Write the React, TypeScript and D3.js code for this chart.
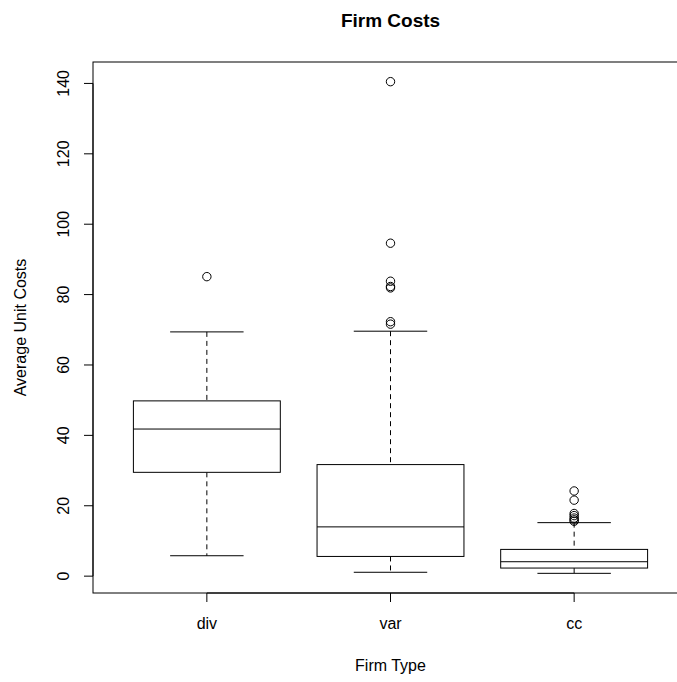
import { useEffect, useRef } from 'react';
import * as d3 from 'd3';

const CATEGORIES = ['div', 'var', 'cc'];
const LOWER_WHISKER = [5.8, 1.1, 0.8];
const Q1 = [29.5, 5.6, 2.3];
const MEDIAN = [41.8, 14.0, 4.1];
const Q3 = [49.8, 31.7, 7.6];
const UPPER_WHISKER = [69.4, 69.6, 15.2];
const OUTLIERS_DIV = [85.1];
const OUTLIERS_VAR = [140.5, 94.6, 83.8, 82.3, 81.9, 72.3, 71.6];
const OUTLIERS_CC = [24.2, 21.6, 17.8, 17.2, 16.5, 16.0, 15.6];
const OUTLIERS = [OUTLIERS_DIV, OUTLIERS_VAR, OUTLIERS_CC];
const Y_TICKS = [0, 20, 40, 60, 80, 100, 120, 140];

const WIDTH = 677;
const HEIGHT = 682;
// plot region, R style (right edge falls just outside the picture)
const PLOT = { left: 93, right: 688, top: 62, bottom: 593 };
const FONT = '"Liberation Sans", Arial, Helvetica, sans-serif';

export default function App() {
  const svgRef = useRef<SVGSVGElement>(null);

  useEffect(() => {
    const svg = d3.select(svgRef.current);
    svg.selectAll('*').remove();
    svg.style('font-family', FONT);

    // R pads the range by 4% on each side
    const all = [...LOWER_WHISKER, ...UPPER_WHISKER, ...OUTLIERS.flat()];
    const [lo, hi] = d3.extent(all) as [number, number];
    const pad = (hi - lo) * 0.04;

    const x = d3.scaleLinear().domain([0.38, 3.62]).range([PLOT.left, PLOT.right]);
    const y = d3.scaleLinear().domain([lo - pad, hi + pad]).range([PLOT.bottom, PLOT.top]);
    const boxHalf = x(1.4) - x(1); // box width 0.8
    const capHalf = boxHalf / 2;

    const g = svg.append('g').attr('fill', 'none').attr('stroke', '#000').attr('stroke-width', 1);

    CATEGORIES.forEach((_, i) => {
      const cx = x(i + 1);
      // whiskers
      g.append('line')
        .attr('x1', cx).attr('x2', cx)
        .attr('y1', y(UPPER_WHISKER[i])).attr('y2', y(Q3[i]))
        .attr('stroke-dasharray', '5,4');
      g.append('line')
        .attr('x1', cx).attr('x2', cx)
        .attr('y1', y(Q1[i])).attr('y2', y(LOWER_WHISKER[i]))
        .attr('stroke-dasharray', '5,4');
      // caps
      [UPPER_WHISKER[i], LOWER_WHISKER[i]].forEach((v) => {
        g.append('line')
          .attr('x1', cx - capHalf).attr('x2', cx + capHalf)
          .attr('y1', y(v)).attr('y2', y(v));
      });
      // box
      g.append('rect')
        .attr('x', cx - boxHalf)
        .attr('y', y(Q3[i]))
        .attr('width', boxHalf * 2)
        .attr('height', y(Q1[i]) - y(Q3[i]))
        .attr('fill', '#fff');
      g.append('line')
        .attr('x1', cx - boxHalf).attr('x2', cx + boxHalf)
        .attr('y1', y(MEDIAN[i])).attr('y2', y(MEDIAN[i]));
      // outliers
      g.selectAll(null)
        .data(OUTLIERS[i])
        .join('circle')
        .attr('cx', cx)
        .attr('cy', (d) => y(d))
        .attr('r', 4.2);
    });

    // frame
    g.append('rect')
      .attr('x', PLOT.left)
      .attr('y', PLOT.top)
      .attr('width', PLOT.right - PLOT.left)
      .attr('height', PLOT.bottom - PLOT.top);

    // y axis -------------------------------------------------------------
    const yAxis = svg.append('g');
    yAxis.append('line')
      .attr('x1', PLOT.left).attr('x2', PLOT.left)
      .attr('y1', y(Y_TICKS[0])).attr('y2', y(Y_TICKS[Y_TICKS.length - 1]))
      .attr('stroke', '#000');
    Y_TICKS.forEach((t) => {
      yAxis.append('line')
        .attr('x1', PLOT.left - 9).attr('x2', PLOT.left)
        .attr('y1', y(t)).attr('y2', y(t))
        .attr('stroke', '#000');
      yAxis.append('text')
        .attr('transform', `translate(63,${y(t)}) rotate(-90)`)
        .attr('text-anchor', 'middle')
        .attr('dy', '0.35em')
        .style('font-size', '16px')
        .text(t);
    });

    // x axis -------------------------------------------------------------
    const xAxis = svg.append('g');
    xAxis.append('line')
      .attr('x1', x(1)).attr('x2', x(CATEGORIES.length))
      .attr('y1', PLOT.bottom).attr('y2', PLOT.bottom)
      .attr('stroke', '#000');
    CATEGORIES.forEach((c, i) => {
      xAxis.append('line')
        .attr('x1', x(i + 1)).attr('x2', x(i + 1))
        .attr('y1', PLOT.bottom).attr('y2', PLOT.bottom + 9)
        .attr('stroke', '#000');
      xAxis.append('text')
        .attr('x', x(i + 1))
        .attr('y', 623)
        .attr('text-anchor', 'middle')
        .attr('dy', '0.35em')
        .style('font-size', '16px')
        .text(c);
    });

    // titles -------------------------------------------------------------
    const midX = (PLOT.left + PLOT.right) / 2;
    svg.append('text')
      .attr('x', midX)
      .attr('y', 20)
      .attr('text-anchor', 'middle')
      .attr('dy', '0.35em')
      .style('font-size', '19px')
      .style('font-weight', 'bold')
      .text('Firm Costs');
    svg.append('text')
      .attr('x', midX)
      .attr('y', 665)
      .attr('text-anchor', 'middle')
      .attr('dy', '0.35em')
      .style('font-size', '16px')
      .text('Firm Type');
    svg.append('text')
      .attr('transform', `translate(20,${(PLOT.top + PLOT.bottom) / 2}) rotate(-90)`)
      .attr('text-anchor', 'middle')
      .attr('dy', '0.35em')
      .style('font-size', '16px')
      .text('Average Unit Costs');
  }, []);

  return (
    <svg
      ref={svgRef}
      width={WIDTH}
      height={HEIGHT}
      style={{ position: 'absolute', left: 0, top: 0, background: '#fff' }}
    />
  );
}
